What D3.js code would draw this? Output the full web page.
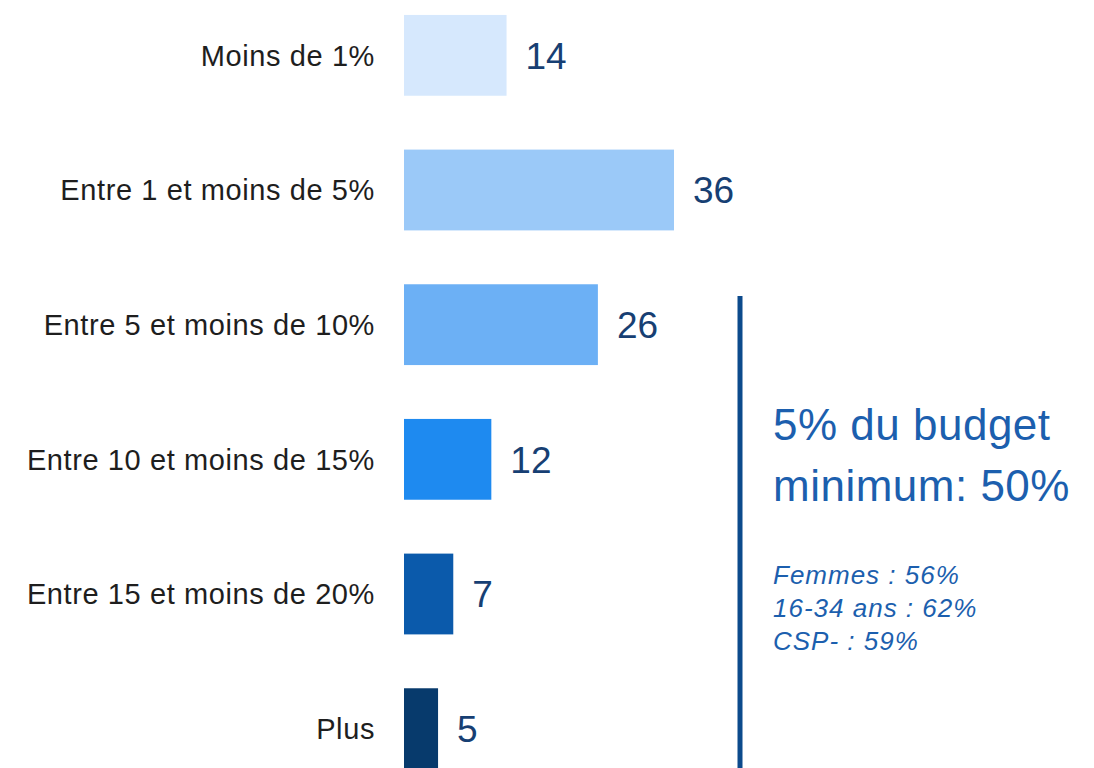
<!DOCTYPE html>
<html>
<head>
<meta charset="utf-8">
<script src="https://cdn.jsdelivr.net/npm/d3@7"></script>
<style>
  body { margin: 0; background: #fff; }
  text { font-family: "Liberation Sans", Arial, sans-serif; }
</style>
</head>
<body>
<div id="chart"></div>
<script>
var categories = ["Moins de 1%", "Entre 1 et moins de 5%", "Entre 5 et moins de 10%",
  "Entre 10 et moins de 15%", "Entre 15 et moins de 20%", "Plus"];
var values = [14, 36, 26, 12, 7, 5];
var barColors = ["#d6e8fd", "#9bc9f8", "#6cb0f5", "#1e8af0", "#0b5aab", "#073a6c"];
var noteTitle = ["5% du budget", "minimum: 50%"];
var noteLines = ["Femmes : 56%", "16-34 ans : 62%", "CSP- : 59%"];

var width = 1094, height = 768;

var svg = d3.select("#chart")
  .append("svg")
    .attr("width", width)
    .attr("height", height);

var barStart = 404;

var x = d3.scaleLinear()
  .domain([0, 36])
  .range([400, 674]);

var y = d3.scaleBand()
  .domain(categories)
  .range([-12, 796])
  .paddingInner(0.4)
  .paddingOuter(0.2);

// bars
svg.selectAll("rect.bar")
  .data(values)
  .enter()
  .append("rect")
    .attr("class", "bar")
    .attr("x", barStart)
    .attr("y", function(d, i) { return y(categories[i]); })
    .attr("width", function(d) { return x(d) - barStart; })
    .attr("height", y.bandwidth())
    .style("fill", function(d, i) { return barColors[i]; });

// category labels
svg.selectAll("text.cat")
  .data(categories)
  .enter()
  .append("text")
    .attr("class", "cat")
    .attr("x", 375)
    .attr("y", function(d) { return y(d) + y.bandwidth() / 2; })
    .attr("dy", "0.36em")
    .attr("text-anchor", "end")
    .style("font-size", "29px")
    .style("letter-spacing", "0.6px")
    .style("fill", "#1e1e1e")
    .text(function(d) { return d; });

// value labels
svg.selectAll("text.val")
  .data(values)
  .enter()
  .append("text")
    .attr("class", "val")
    .attr("x", function(d) { return x(d) + 19; })
    .attr("y", function(d, i) { return y(categories[i]) + y.bandwidth() / 2; })
    .attr("dy", "0.36em")
    .style("font-size", "37px")
    .style("fill", "#173f73")
    .text(function(d) { return d; });

// side note
svg.append("line")
  .attr("x1", 740).attr("x2", 740)
  .attr("y1", 296).attr("y2", height)
  .attr("stroke", "#0c4a8c")
  .attr("stroke-width", 5);

svg.selectAll("text.title")
  .data(noteTitle)
  .enter()
  .append("text")
    .attr("class", "title")
    .attr("x", 773)
    .attr("y", function(d, i) { return 440 + i * 61; })
    .style("font-size", "44px")
    .style("letter-spacing", "0.5px")
    .style("fill", "#1c5fae")
    .text(function(d) { return d; });

svg.selectAll("text.note")
  .data(noteLines)
  .enter()
  .append("text")
    .attr("class", "note")
    .attr("x", 773)
    .attr("y", function(d, i) { return 584 + i * 33; })
    .style("font-size", "26px")
    .style("letter-spacing", "1px")
    .style("font-style", "italic")
    .style("fill", "#1c5fae")
    .text(function(d) { return d; });
</script>
</body>
</html>
